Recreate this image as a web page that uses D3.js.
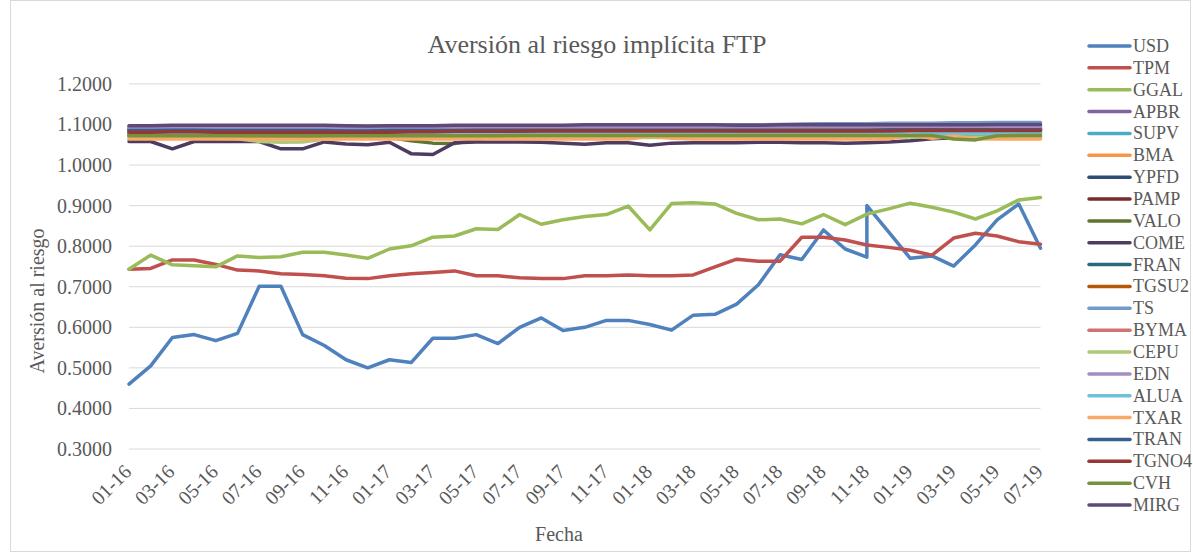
<!DOCTYPE html>
<html>
<head>
<meta charset="utf-8">
<script src="https://cdn.jsdelivr.net/npm/d3@7"></script>
<style>
  body { margin: 0; background: #fff; }
  text { font-family: "Liberation Serif", "Times New Roman", serif; fill: #595959; }
</style>
</head>
<body>
<div id="chart"></div>
<script>
//data - monthly, Nov 2018 has two observations
var months = [
  '01-16','02-16','03-16','04-16','05-16','06-16','07-16','08-16','09-16','10-16','11-16',
  '12-16','01-17','02-17','03-17','04-17','05-17','06-17','07-17','08-17','09-17','10-17',
  '11-17','12-17','01-18','02-18','03-18','04-18','05-18','06-18','07-18','08-18','09-18',
  '10-18','11-18','11-18','12-18','01-19','02-19','03-19','04-19','05-19','06-19','07-19'
];

var USD = [
  0.460,0.505,0.575,0.582,0.567,0.585,0.701,0.701,0.582,0.555,0.520,
  0.500,0.520,0.513,0.573,0.573,0.582,0.560,0.600,0.623,0.592,0.600,
  0.617,0.617,0.607,0.593,0.630,0.632,0.657,0.705,0.779,0.767,0.840,
  0.793,0.773,0.900,0.835,0.770,0.776,0.751,0.803,0.865,0.904,0.795
];
var TPM = [
  0.743,0.745,0.766,0.766,0.755,0.741,0.739,0.732,0.730,0.727,0.721,
  0.720,0.727,0.732,0.735,0.739,0.727,0.727,0.722,0.720,0.720,0.727,
  0.727,0.729,0.727,0.727,0.729,0.749,0.768,0.763,0.763,0.822,0.822,
  0.815,0.803,0.803,0.797,0.790,0.778,0.820,0.832,0.825,0.811,0.805
];
var GGAL = [
  0.743,0.778,0.754,0.752,0.749,0.776,0.772,0.774,0.785,0.785,0.778,
  0.770,0.793,0.801,0.822,0.825,0.843,0.841,0.878,0.854,0.865,0.873,
  0.878,0.899,0.840,0.905,0.907,0.904,0.881,0.865,0.867,0.855,0.878,
  0.853,0.879,0.879,0.892,0.906,0.896,0.884,0.867,0.887,0.914,0.920
];
var APBR = [
  1.094,1.095,1.095,1.095,1.094,1.094,1.095,1.095,1.095,1.094,1.093,
  1.092,1.093,1.094,1.094,1.095,1.095,1.094,1.094,1.095,1.095,1.096,
  1.096,1.096,1.097,1.097,1.096,1.096,1.095,1.094,1.095,1.096,1.096,
  1.095,1.095,1.095,1.096,1.096,1.097,1.097,1.097,1.098,1.098,1.098
];
var SUPV = [
  1.082,1.082,1.083,1.083,1.082,1.081,1.081,1.080,1.080,1.080,1.079,
  1.078,1.078,1.079,1.078,1.079,1.080,1.080,1.081,1.081,1.080,1.080,
  1.079,1.079,1.078,1.078,1.079,1.080,1.080,1.079,1.079,1.079,1.080,
  1.080,1.080,1.080,1.079,1.078,1.078,1.079,1.080,1.080,1.081,1.081
];
var BMA = [
  1.070,1.070,1.071,1.071,1.070,1.070,1.069,1.069,1.069,1.068,1.068,
  1.068,1.069,1.070,1.069,1.068,1.068,1.068,1.069,1.069,1.068,1.068,
  1.069,1.070,1.072,1.071,1.070,1.070,1.069,1.069,1.070,1.070,1.069,
  1.069,1.069,1.069,1.072,1.073,1.071,1.070,1.069,1.069,1.069,1.069
];
var YPFD = [
  1.087,1.087,1.088,1.088,1.087,1.087,1.086,1.086,1.086,1.087,1.087,
  1.086,1.086,1.087,1.087,1.088,1.088,1.087,1.087,1.088,1.088,1.089,
  1.089,1.088,1.088,1.089,1.089,1.090,1.090,1.089,1.089,1.090,1.090,
  1.089,1.089,1.089,1.090,1.090,1.091,1.091,1.090,1.090,1.091,1.091
];
var PAMP = [
  1.079,1.080,1.081,1.081,1.080,1.080,1.080,1.079,1.079,1.079,1.078,
  1.078,1.079,1.080,1.081,1.081,1.082,1.082,1.083,1.083,1.083,1.084,
  1.084,1.084,1.085,1.085,1.085,1.085,1.084,1.084,1.085,1.085,1.085,
  1.084,1.084,1.084,1.085,1.085,1.086,1.086,1.086,1.086,1.087,1.087
];
var VALO = [
  1.073,1.073,1.074,1.074,1.073,1.072,1.072,1.071,1.071,1.071,1.070,
  1.070,1.068,1.060,1.054,1.053,1.062,1.070,1.072,1.073,1.073,1.074,
  1.074,1.074,1.075,1.075,1.075,1.074,1.074,1.074,1.075,1.075,1.075,
  1.074,1.074,1.074,1.075,1.075,1.076,1.076,1.076,1.076,1.077,1.077
];
var COME = [
  1.058,1.058,1.040,1.058,1.058,1.058,1.058,1.040,1.040,1.057,1.052,
  1.050,1.056,1.028,1.026,1.055,1.057,1.057,1.057,1.056,1.054,1.051,
  1.055,1.055,1.049,1.054,1.055,1.055,1.055,1.056,1.056,1.055,1.055,
  1.054,1.055,1.055,1.057,1.060,1.065,1.067,1.068,1.068,1.069,1.069
];
var FRAN = [
  1.089,1.089,1.090,1.090,1.089,1.089,1.089,1.088,1.088,1.088,1.087,
  1.087,1.088,1.088,1.088,1.089,1.089,1.089,1.088,1.088,1.088,1.088,
  1.088,1.087,1.087,1.088,1.088,1.088,1.087,1.087,1.088,1.088,1.088,
  1.088,1.088,1.088,1.088,1.089,1.089,1.089,1.089,1.090,1.090,1.090
];
var TGSU2 = [
  1.076,1.076,1.077,1.077,1.076,1.076,1.076,1.076,1.077,1.077,1.076,
  1.076,1.077,1.077,1.078,1.078,1.079,1.079,1.080,1.080,1.080,1.081,
  1.081,1.081,1.081,1.082,1.082,1.082,1.081,1.081,1.081,1.082,1.082,
  1.082,1.082,1.082,1.083,1.083,1.083,1.084,1.084,1.084,1.084,1.084
];
var TS = [
  1.091,1.091,1.092,1.092,1.091,1.091,1.091,1.091,1.092,1.092,1.092,
  1.091,1.092,1.093,1.093,1.094,1.094,1.094,1.094,1.095,1.095,1.096,
  1.096,1.096,1.097,1.098,1.098,1.098,1.099,1.099,1.100,1.101,1.102,
  1.102,1.102,1.102,1.103,1.103,1.103,1.104,1.104,1.105,1.105,1.105
];
var BYMA = [
  null,null,null,null,null,null,null,null,null,null,null,
  null,null,null,null,null,null,1.089,1.089,1.090,1.090,1.089,
  1.089,1.088,1.088,1.088,1.087,1.087,1.087,1.088,1.088,1.088,1.088,
  1.088,1.088,1.088,1.087,1.087,1.087,1.087,1.088,1.088,1.088,1.088
];
var CEPU = [
  1.066,1.066,1.066,1.066,1.066,1.065,1.058,1.056,1.057,1.064,1.066,
  1.066,1.066,1.066,1.066,1.066,1.067,1.067,1.067,1.067,1.067,1.068,
  1.068,1.068,1.068,1.068,1.068,1.068,1.068,1.068,1.068,1.068,1.068,
  1.068,1.068,1.068,1.068,1.069,1.069,1.069,1.069,1.069,1.069,1.069
];
var EDN = [
  1.092,1.092,1.093,1.093,1.092,1.092,1.092,1.092,1.093,1.093,1.092,
  1.092,1.092,1.093,1.093,1.093,1.093,1.093,1.094,1.094,1.094,1.094,
  1.094,1.094,1.094,1.094,1.094,1.093,1.093,1.093,1.094,1.094,1.094,
  1.094,1.094,1.094,1.094,1.094,1.095,1.095,1.095,1.095,1.095,1.095
];
var ALUA = [
  1.078,1.078,1.079,1.079,1.078,1.078,1.078,1.077,1.077,1.077,1.077,
  1.077,1.077,1.077,1.076,1.076,1.076,1.076,1.077,1.077,1.077,1.077,
  1.077,1.077,1.077,1.077,1.077,1.077,1.076,1.076,1.076,1.076,1.076,
  1.076,1.076,1.076,1.077,1.077,1.077,1.077,1.078,1.078,1.078,1.078
];
var TXAR = [
  1.064,1.064,1.064,1.064,1.064,1.064,1.064,1.064,1.064,1.064,1.064,
  1.064,1.064,1.064,1.064,1.064,1.064,1.064,1.064,1.064,1.064,1.064,
  1.064,1.064,1.071,1.066,1.064,1.064,1.064,1.064,1.064,1.064,1.064,
  1.064,1.064,1.064,1.064,1.074,1.066,1.071,1.065,1.064,1.064,1.064
];
var TRAN = [
  1.085,1.085,1.086,1.086,1.085,1.085,1.085,1.085,1.085,1.085,1.084,
  1.084,1.085,1.085,1.085,1.085,1.086,1.086,1.086,1.086,1.086,1.086,
  1.086,1.086,1.086,1.086,1.086,1.086,1.086,1.086,1.086,1.086,1.086,
  1.086,1.086,1.086,1.087,1.087,1.087,1.087,1.087,1.087,1.087,1.087
];
var TGNO4 = [
  1.081,1.081,1.082,1.082,1.081,1.081,1.081,1.081,1.081,1.081,1.080,
  1.080,1.081,1.082,1.082,1.083,1.083,1.083,1.083,1.084,1.084,1.084,
  1.084,1.084,1.084,1.084,1.084,1.084,1.084,1.084,1.084,1.084,1.084,
  1.084,1.084,1.084,1.084,1.085,1.085,1.085,1.085,1.085,1.085,1.085
];
var CVH = [
  1.072,1.072,1.072,1.072,1.072,1.072,1.072,1.072,1.072,1.072,1.072,
  1.072,1.072,1.072,1.072,1.072,1.072,1.072,1.073,1.073,1.073,1.073,
  1.073,1.073,1.073,1.073,1.073,1.073,1.073,1.073,1.073,1.073,1.073,
  1.073,1.073,1.073,1.073,1.073,1.073,1.064,1.062,1.072,1.073,1.073
];
var MIRG = [
  1.097,1.097,1.098,1.098,1.098,1.098,1.098,1.098,1.098,1.098,1.097,
  1.096,1.097,1.097,1.097,1.098,1.098,1.098,1.098,1.098,1.098,1.099,
  1.099,1.099,1.099,1.099,1.099,1.099,1.098,1.098,1.099,1.099,1.099,
  1.099,1.099,1.099,1.099,1.099,1.099,1.099,1.099,1.100,1.100,1.100
];

var names = ['USD','TPM','GGAL','APBR','SUPV','BMA','YPFD','PAMP','VALO','COME','FRAN',
  'TGSU2','TS','BYMA','CEPU','EDN','ALUA','TXAR','TRAN','TGNO4','CVH','MIRG'];
var values = [USD, TPM, GGAL, APBR, SUPV, BMA, YPFD, PAMP, VALO, COME, FRAN,
  TGSU2, TS, BYMA, CEPU, EDN, ALUA, TXAR, TRAN, TGNO4, CVH, MIRG];
var yTicks = [0.3, 0.4, 0.5, 0.6, 0.7, 0.8, 0.9, 1.0, 1.1, 1.2];

//colors (excel palette)
var colors = ['#4F81BD','#C0504D','#9BBB59','#8064A2','#4BACC6','#F79646',
  '#2C4D75','#772C2A','#5F7530','#4D3B62','#276A7C','#B65708',
  '#729ACA','#CD7371','#AFC97A','#A18FBF','#6FC1D7','#F9A866',
  '#376092','#953735','#76923C','#5F497A'];

//dims
var width = 1193;
var height = 553;
var plotL = 129, plotR = 1040.5, plotT = 83.9, plotB = 449;

var svg = d3.select('#chart')
  .append('svg')
  .attr('width', width)
  .attr('height', height);

// chart border
svg.append('rect')
  .attr('x', 10.5).attr('y', 0.5)
  .attr('width', 1180).attr('height', 551)
  .attr('fill', 'none')
  .attr('stroke', '#D9D9D9');

//scales
var x = d3.scalePoint()
  .domain(Array.from(new Set(months)))
  .range([plotL, plotR]);

var y = d3.scaleLinear()
  .domain([0.3, 1.2])
  .range([plotB, plotT]);

//grid
svg.append('g').selectAll('line')
  .data(yTicks)
  .enter()
  .append('line')
  .attr('x1', plotL).attr('x2', plotR)
  .attr('y1', function(d) { return y(d); })
  .attr('y2', function(d) { return y(d); })
  .attr('stroke', '#D9D9D9')
  .attr('stroke-width', 1);

//y axis labels
var yAxis = d3.axisLeft(y)
  .tickValues(yTicks)
  .tickSize(0)
  .tickPadding(17)
  .tickFormat(d3.format('.4f'));

svg.append('g')
  .attr('transform', 'translate(' + plotL + ',0)')
  .call(yAxis)
  .call(function(g) { g.select('.domain').remove(); })
  .selectAll('text')
  .style('font-family', '"Liberation Serif", serif')
  .style('font-size', '20px')
  .attr('fill', '#595959');

//x axis labels
var xTicks = x.domain().filter(function(d, i) { return i % 2 === 0; });
var xAxis = d3.axisBottom(x).tickValues(xTicks).tickSize(0);

svg.append('g')
  .attr('transform', 'translate(0,' + plotB + ')')
  .call(xAxis)
  .call(function(g) { g.select('.domain').remove(); })
  .selectAll('text')
  .style('font-family', '"Liberation Serif", serif')
  .style('font-size', '20px')
  .attr('fill', '#595959')
  .attr('text-anchor', 'end')
  .attr('dy', null)
  .attr('y', null)
  .attr('transform', 'translate(3,24) rotate(-45)');

//lines
var line = d3.line()
  .defined(function(d) { return d.v != null; })
  .x(function(d) { return x(d.m); })
  .y(function(d) { return y(d.v); });

svg.append('g').selectAll('path')
  .data(values)
  .enter()
  .append('path')
  .attr('d', function(vals) {
    return line(vals.map(function(v, i) { return { m: months[i], v: v }; }));
  })
  .attr('fill', 'none')
  .attr('stroke', function(d, i) { return colors[i]; })
  .attr('stroke-width', 3.5)
  .attr('stroke-linejoin', 'round')
  .attr('stroke-linecap', 'round');

//titles
svg.append('text')
  .attr('x', 597).attr('y', 53)
  .attr('text-anchor', 'middle')
  .style('font-size', '26px')
  .text('Aversión al riesgo implícita FTP');

svg.append('text')
  .attr('transform', 'translate(44,301) rotate(-90)')
  .attr('text-anchor', 'middle')
  .style('font-size', '20px')
  .text('Aversión al riesgo');

svg.append('text')
  .attr('x', 559).attr('y', 541)
  .attr('text-anchor', 'middle')
  .style('font-size', '20px')
  .text('Fecha');

//legend
var legend = svg.append('g').selectAll('g')
  .data(names)
  .enter()
  .append('g')
  .attr('transform', function(d, i) { return 'translate(0,' + (46 + i * 21.86) + ')'; });

legend.append('line')
  .attr('x1', 1089).attr('x2', 1130)
  .attr('stroke', function(d, i) { return colors[i]; })
  .attr('stroke-width', 3.5)
  .attr('stroke-linecap', 'round');

legend.append('text')
  .attr('x', 1133).attr('y', 6)
  .style('font-size', '18px')
  .text(function(d) { return d; });
</script>
</body>
</html>
